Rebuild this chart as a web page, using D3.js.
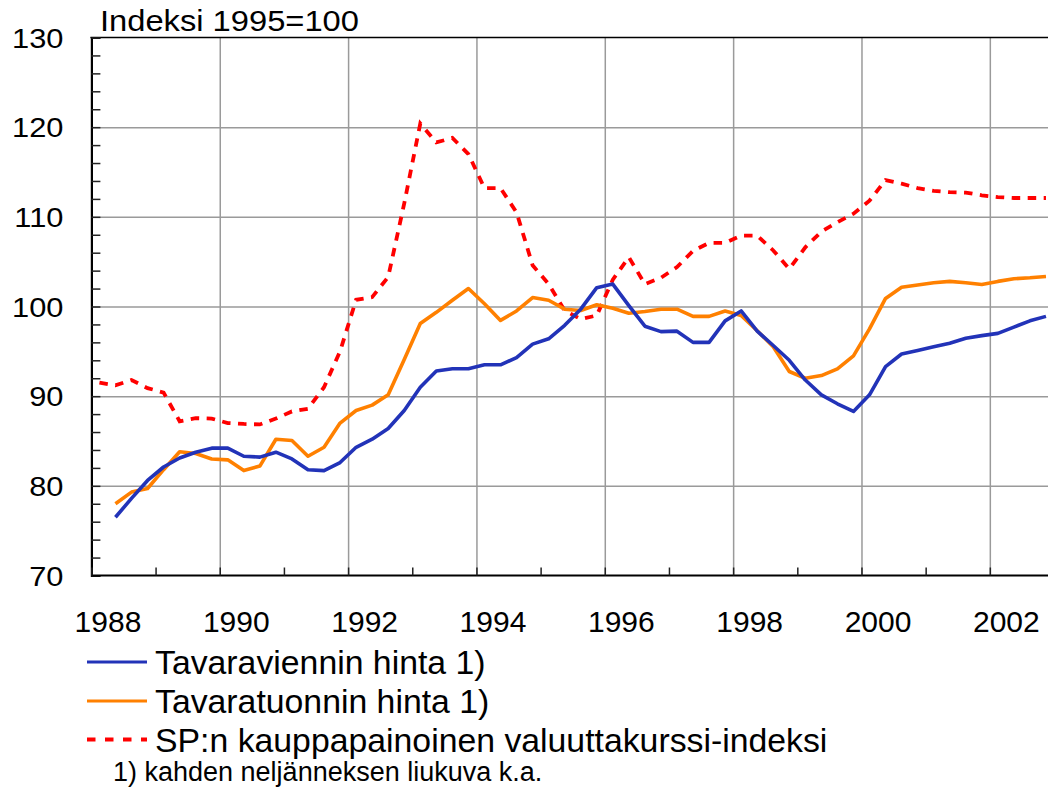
<!DOCTYPE html>
<html><head><meta charset="utf-8">
<script src="https://cdn.jsdelivr.net/npm/d3@7"></script>
<style>
html,body{margin:0;padding:0;background:#fff;}
svg{display:block;font-family:"Liberation Sans",Arial,Helvetica,sans-serif;}
</style></head>
<body><svg id="chart" width="1048" height="791"></svg>
<script>
// ---- data (quarterly, 1988Q1 .. 2002Q4) ----
const startYear = 1988;
const quarters = d3.range(60).map(i => (startYear + Math.floor(i / 4)) + "Q" + (i % 4 + 1));
const exportPrice = [null, 76.5, 78.6, 80.6, 82.1, 83.1, 83.75, 84.2, 84.2, 83.3, 83.2, 83.75, 83.0, 81.8, 81.7, 82.6,
  84.3, 85.2, 86.4, 88.4, 91.0, 92.8, 93.05, 93.05, 93.5, 93.5, 94.3, 95.8, 96.4, 97.9, 99.7, 102.1,
  102.5, 100.1, 97.8, 97.2, 97.25, 96.0, 96.0, 98.4, 99.5, 97.25, 95.65, 94.0, 91.8, 90.15, 89.15, 88.3,
  90.15, 93.3, 94.7, 95.1, 95.5, 95.9, 96.45, 96.75, 97.0, 97.7, 98.4, 98.9];
const importPrice = [null, 78.0, 79.3, 79.7, 81.8, 83.8, 83.6, 83.0, 82.9, 81.7, 82.2, 85.2, 85.05, 83.3, 84.3, 87.0,
  88.4, 89.0, 90.15, 94.1, 98.1, 99.35, 100.7, 102.0, 100.3, 98.45, 99.5, 101.0, 100.7, 99.7, 99.55, 100.2,
  99.8, 99.25, 99.45, 99.7, 99.7, 98.9, 98.9, 99.5, 99.0, 97.3, 95.5, 92.75, 92.0, 92.3, 93.05, 94.5,
  97.5, 100.9, 102.15, 102.4, 102.65, 102.8, 102.65, 102.45, 102.8, 103.1, 103.2, 103.35];
const currencyIndex = [91.5, 91.2, 91.8, 90.9, 90.4, 87.2, 87.55, 87.5, 87.0, 86.9, 86.85, 87.5, 88.3, 88.6, 91.0, 95.0,
  100.75, 101.05, 103.3, 111.5, 120.4, 118.3, 118.8, 117.0, 113.2, 113.2, 110.5, 104.6, 102.5, 99.55, 98.6, 99.0,
  103.0, 105.5, 102.5, 103.2, 104.4, 106.2, 107.1, 107.1, 107.9, 107.9, 106.25, 104.2, 106.6, 108.35, 109.4, 110.35,
  111.8, 114.1, 113.7, 113.2, 112.9, 112.75, 112.7, 112.4, 112.2, 112.1, 112.1, 112.1];
const seriesNames = ["Tavaraviennin hinta 1)", "Tavaratuonnin hinta 1)", "SP:n kauppapainoinen valuuttakurssi-indeksi"];
const yTicks = [70, 80, 90, 100, 110, 120, 130];
const xLabelYears = [1988, 1990, 1992, 1994, 1996, 1998, 2000, 2002];
const titleText = "Indeksi 1995=100";
const footnote = "1) kahden neljänneksen liukuva k.a.";

// ---- layout ----
const svg = d3.select("#chart");
const x = d3.scaleLinear().domain([1988, 2003]).range([91.4, 1054]);
const y = d3.scaleLinear().domain([70, 130]).range([575.5, 37.5]);
const pLeft = 91.4, pBottom = 575.5, pTop = 37.5, pRight = 1048;
const qx = i => x(startYear + Math.floor(i / 4) + ((i % 4) + 0.5) / 4);

// gridlines
svg.append("g").attr("transform", `translate(${pLeft},0)`)
  .call(d3.axisLeft(y).tickValues([80, 90, 100, 110, 120]).tickSize(-(pRight - pLeft)).tickFormat(""))
  .call(g => g.select(".domain").remove())
  .call(g => g.selectAll("line").attr("stroke", "#9a9a9a").attr("stroke-width", 1.5));
svg.append("g").attr("transform", `translate(0,${pBottom})`)
  .call(d3.axisBottom(x).tickValues(d3.range(1990, 2003, 2)).tickSize(-(pBottom - pTop)).tickFormat(""))
  .call(g => g.select(".domain").remove())
  .call(g => g.selectAll("line").attr("stroke", "#9a9a9a").attr("stroke-width", 1.5));

// top border
svg.append("line").attr("x1", pLeft - 1).attr("x2", pRight).attr("y1", y(130)).attr("y2", y(130))
  .attr("stroke", "#000").attr("stroke-width", 1.5);

// series lines
const line = d3.line().defined(d => d != null).x((d, i) => qx(i)).y(d => y(d));
svg.append("path").datum(currencyIndex).attr("d", line).attr("fill", "none")
  .attr("stroke", "#ff0000").attr("stroke-width", 3.8).attr("stroke-dasharray", "8.5,7.5");
svg.append("path").datum(importPrice).attr("d", line).attr("fill", "none")
  .attr("stroke", "#ff8000").attr("stroke-width", 3.6).attr("stroke-linejoin", "round");
svg.append("path").datum(exportPrice).attr("d", line).attr("fill", "none")
  .attr("stroke", "#2233b8").attr("stroke-width", 3.6).attr("stroke-linejoin", "round");

// y axis: minor inward ticks + line
svg.append("g").attr("transform", `translate(${pLeft},0)`)
  .call(d3.axisRight(y).tickValues(d3.range(70, 131, 2)).tickSize(9).tickFormat(""))
  .call(g => g.select(".domain").attr("stroke", "#000").attr("stroke-width", 2.2))
  .call(g => g.selectAll("line").attr("stroke", "#222").attr("stroke-width", 1.5));
// y labels
svg.append("g").attr("transform", `translate(${pLeft},0)`)
  .call(d3.axisLeft(y).tickValues(yTicks).tickSize(0).tickFormat(d3.format("d")))
  .call(g => g.select(".domain").remove())
  .call(g => g.selectAll("text").attr("x", -28 / 1.1).attr("transform", "scale(1.1,1)")
    .attr("font-size", 28).attr("fill", "#000").attr("dy", "0.35em"));
svg.selectAll("g").attr("font-family", null);

// x axis: ticks each year (upward) + line
svg.append("g").attr("transform", `translate(0,${pBottom})`)
  .call(d3.axisBottom(x).tickValues(d3.range(1988, 2004)).tickSize(-8).tickFormat(""))
  .call(g => g.select(".domain").attr("stroke", "#000").attr("stroke-width", 2.2).attr("d", `M${pLeft},0H${pRight}`))
  .call(g => g.selectAll("line").attr("stroke", "#222").attr("stroke-width", 1.5));
// x labels
const labelShift = x(1988.25) - x(1988);
svg.append("g").attr("transform", `translate(0,${pBottom})`)
  .call(d3.axisBottom(x).tickValues(xLabelYears).tickSize(0).tickFormat(d3.format("d")))
  .call(g => g.select(".domain").remove())
  .call(g => g.attr("font-family", null))
  .call(g => g.selectAll("text").attr("x", labelShift).attr("y", 56).attr("dy", null)
    .attr("font-size", 30).attr("fill", "#000"));

// title
svg.append("text").attr("transform", "translate(100,31) scale(1.09,1)")
  .attr("font-size", 30).attr("fill", "#000").text(titleText);

// legend
const legendRows = [
  {name: seriesNames[0], color: "#2233b8", dash: null, ly: 662, ty: 673.5},
  {name: seriesNames[1], color: "#ff8000", dash: null, ly: 701, ty: 712.5},
  {name: seriesNames[2], color: "#ff0000", dash: "8.5,9.5", ly: 739.5, ty: 751.5}
];
const lg = svg.append("g");
legendRows.forEach(r => {
  lg.append("line").attr("x1", 87).attr("x2", 147).attr("y1", r.ly).attr("y2", r.ly)
    .attr("stroke", r.color).attr("stroke-width", r.dash ? 3.8 : 3.2)
    .attr("stroke-dasharray", r.dash);
  lg.append("text").attr("transform", `translate(155,${r.ty}) scale(1.04,1)`)
    .attr("font-size", 32.5).attr("fill", "#000").text(r.name);
});
lg.append("text").attr("x", 113).attr("y", 781).attr("font-size", 27).attr("fill", "#000").text(footnote);
</script></body></html>
